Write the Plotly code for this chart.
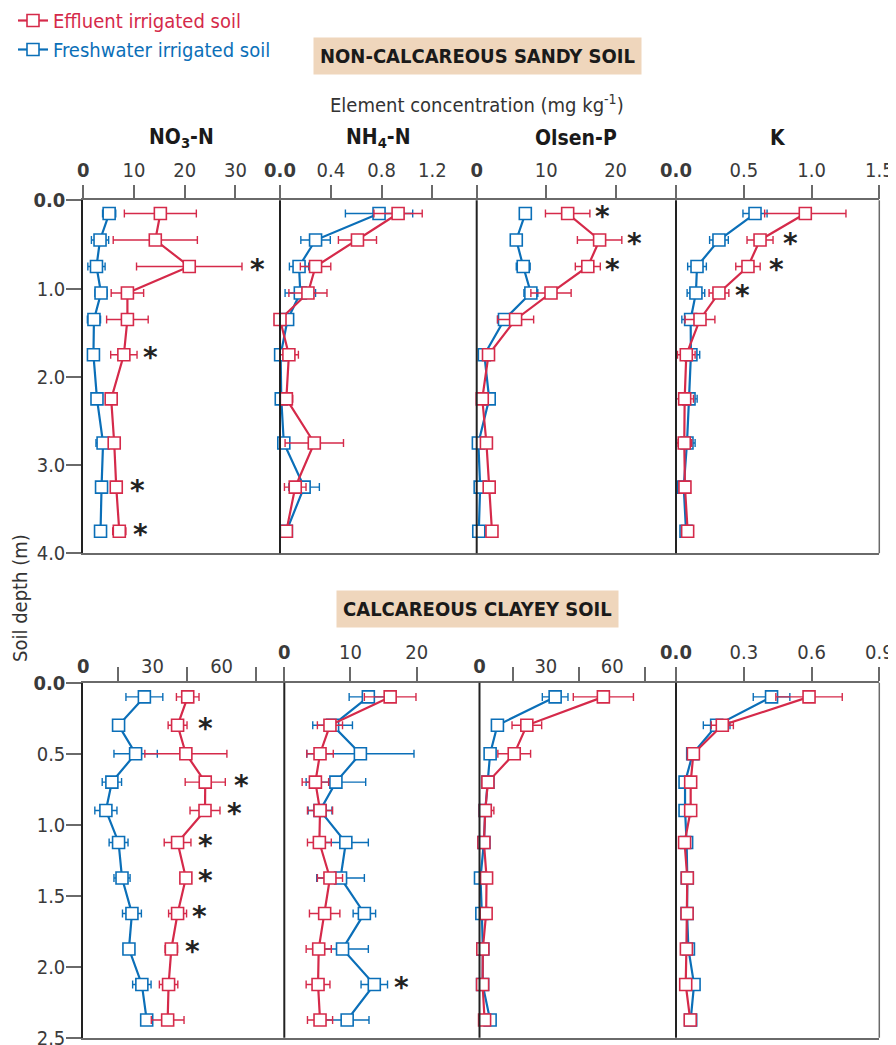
import plotly.graph_objects as go

RED = "#d52a4a"
BLUE = "#0b6fb8"
FONT = "Liberation Sans Narrow, DejaVu Sans Condensed, Roboto, sans-serif"
W, H = 896, 1045
OFF_X, OFF_Y = 8, 8   # page offset of the plot inside the browser window

# ---------------- data ----------------
depth_sandy = [0.15, 0.45, 0.75, 1.05, 1.35, 1.75, 2.25, 2.75, 3.25, 3.75]
depth_clay = [0.1, 0.3, 0.5, 0.7, 0.9, 1.125, 1.375, 1.625, 1.875, 2.125, 2.375]

# Non-calcareous sandy soil
sandy_no3_eff = [15.2, 14.2, 20.9, 8.7, 8.7, 8.0, 5.5, 6.1, 6.5, 7.1]
sandy_no3_eff_err = [7.1, 8.3, 10.4, 3.2, 4.1, 2.6, 1.0, 1.1, 1.1, 1.3]
sandy_no3_fw = [5.1, 3.3, 2.6, 3.5, 2.1, 2.0, 2.7, 3.9, 3.6, 3.4]
sandy_no3_fw_err = [1.3, 1.7, 1.7, 1.2, 1.3, 0, 0, 1.4, 0, 0]

sandy_nh4_eff = [0.93, 0.61, 0.28, 0.22, 0.0, 0.07, 0.05, 0.27, 0.12, 0.05]
sandy_nh4_eff_err = [0.19, 0.15, 0.12, 0.15, 0, 0.075, 0.05, 0.23, 0.085, 0]
sandy_nh4_fw = [0.78, 0.28, 0.15, 0.16, 0.06, 0.005, 0.01, 0.03, 0.19, 0.05]
sandy_nh4_fw_err = [0.265, 0.116, 0.076, 0.12, 0.044, 0, 0, 0, 0.12, 0]

sandy_p_eff = [13.1, 17.7, 16.0, 10.7, 5.6, 1.7, 0.8, 1.4, 1.8, 2.2]
sandy_p_eff_err = [3.2, 3.2, 1.8, 2.9, 2.6, 0, 0, 0, 0, 0]
sandy_p_fw = [7.0, 5.7, 6.7, 7.8, 4.0, 1.1, 1.8, 0.24, 0.5, 0.3]
sandy_p_fw_err = [0, 0, 1.0, 1.0, 1.0, 0, 0, 0, 0, 0]

sandy_k_eff = [0.954, 0.62, 0.531, 0.317, 0.177, 0.076, 0.064, 0.061, 0.066, 0.086]
sandy_k_eff_err = [0.30, 0.096, 0.09, 0.073, 0.11, 0.065, 0.065, 0.055, 0, 0]
sandy_k_fw = [0.583, 0.317, 0.155, 0.147, 0.108, 0.11, 0.096, 0.081, 0.057, 0.074]
sandy_k_fw_err = [0.089, 0.069, 0.069, 0.065, 0.065, 0.065, 0.06, 0.06, 0, 0]

# Calcareous clayey soil
clay_no3_eff = [45.3, 40.9, 44.5, 52.9, 52.8, 40.9, 44.5, 40.9, 38.2, 37.0, 36.6]
clay_no3_eff_err = [4.9, 4.1, 17.8, 8.7, 6.5, 5.8, 0, 3.9, 2.7, 4.0, 7.1]
clay_no3_fw = [26.5, 15.3, 22.7, 12.4, 9.8, 15.3, 16.8, 21.1, 19.8, 25.4, 27.5]
clay_no3_fw_err = [8.0, 2.0, 9.4, 4.2, 4.8, 4.1, 3.5, 4.1, 2.0, 4.0, 2.0]

clay_nh4_eff = [16.0, 6.9, 5.4, 4.7, 5.4, 5.3, 6.9, 6.1, 5.2, 5.1, 5.4]
clay_nh4_eff_err = [3.9, 1.9, 2.0, 2.0, 1.9, 1.8, 1.9, 2.3, 1.9, 1.8, 1.9]
clay_nh4_fw = [12.7, 7.3, 11.5, 7.8, 5.4, 9.3, 8.5, 12.1, 8.8, 13.6, 9.5]
clay_nh4_fw_err = [2.9, 3.0, 8.1, 4.5, 1.8, 3.4, 3.6, 1.7, 3.9, 2.0, 3.3]

clay_p_eff = [56.0, 21.4, 15.7, 3.8, 2.6, 2.0, 3.2, 3.0, 1.5, 1.4, 2.3]
clay_p_eff_err = [13.6, 6.7, 7.4, 0, 3.9, 0, 2.0, 0, 0, 0, 0]
clay_p_fw = [34.2, 8.1, 4.8, 3.8, 2.6, 2.0, 0.45, 1.06, 1.5, 1.4, 4.8]
clay_p_fw_err = [5.8, 1.0, 1.0, 0, 0, 0, 0, 0, 0, 0, 0]

clay_k_eff = [0.589, 0.205, 0.077, 0.065, 0.065, 0.038, 0.050, 0.049, 0.046, 0.043, 0.063]
clay_k_eff_err = [0.147, 0.049, 0, 0, 0, 0, 0, 0, 0, 0, 0]
clay_k_fw = [0.423, 0.18, 0.074, 0.04, 0.04, 0.047, 0.05, 0.049, 0.055, 0.08, 0.065]
clay_k_fw_err = [0.081, 0.059, 0, 0, 0, 0, 0, 0, 0, 0, 0]

# significance asterisks (panel index, value position, depth)
star_panel = [1, 1, 1, 1, 3, 3, 3, 4, 4, 4,
              5, 5, 5, 5, 5, 5, 5, 6]
star_x = [34.3, 13.2, 10.7, 11.3, 18.1, 22.7, 19.6, 0.846, 0.738, 0.492,
          52.8, 68.7, 65.8, 52.8, 53.1, 50.2, 47.3, 17.7]
star_depth = [0.75, 1.75, 3.25, 3.75, 0.15, 0.45, 0.75, 0.45, 0.75, 1.05,
              0.3, 0.7, 0.9, 1.125, 1.375, 1.625, 1.875, 2.125]

element_titles = ["NO<sub>3</sub>-N", "NH<sub>4</sub>-N", "Olsen-P", "K"]

# ---------------- layout helpers ----------------
def px_x(p):
    return (p - OFF_X) / W

def px_y(p):
    return 1 - (p - OFF_Y) / H

top_dom_px = [(83.3, 280.0), (280.0, 476.7), (476.7, 676.0), (676.0, 879.3)]
bot_dom_px = [(83.3, 284.3), (284.3, 479.5), (479.5, 675.7), (676.0, 879.3)]
top_y_dom = [px_y(553.3), px_y(200.3)]
bot_y_dom = [px_y(1037.7), px_y(682.7)]

top_ranges = [[0, 38.8], [0, 1.549], [0, 28.7], [0, 1.5]]
bot_ranges = [[0, 87.2], [0, 29.5], [0, 88.7], [0, 0.9]]

top_ticks = [([0, 10, 20, 30], ["<b>0</b>", "10", "20", "30"]),
             ([0, 0.4, 0.8, 1.2], ["<b>0.0</b>", "0.4", "0.8", "1.2"]),
             ([0, 10, 20], ["<b>0</b>", "10", "20"]),
             ([0, 0.5, 1.0, 1.5], ["<b>0.0</b>", "0.5", "1.0", "1.5"])]
bot_ticks = [([0, 30, 60], ["<b>0</b>", "30", "60"]),
             ([0, 10, 20], ["<b>0</b>", "10", "20"]),
             ([0, 30, 60], ["<b>0</b>", "30", "60"]),
             ([0, 0.3, 0.6, 0.9], ["<b>0.0</b>", "0.3", "0.6", "0.9"])]
bot_minor = [[15, 45, 75], None, [15, 45, 75], None]

AX_GRAY = "#6a6a6a"
TICKFONT = dict(family=FONT, size=20, color="#3a3a3a")

fig = go.Figure()

series = [
    (depth_sandy, sandy_no3_fw, sandy_no3_fw_err, sandy_no3_eff, sandy_no3_eff_err),
    (depth_sandy, sandy_nh4_fw, sandy_nh4_fw_err, sandy_nh4_eff, sandy_nh4_eff_err),
    (depth_sandy, sandy_p_fw, sandy_p_fw_err, sandy_p_eff, sandy_p_eff_err),
    (depth_sandy, sandy_k_fw, sandy_k_fw_err, sandy_k_eff, sandy_k_eff_err),
    (depth_clay, clay_no3_fw, clay_no3_fw_err, clay_no3_eff, clay_no3_eff_err),
    (depth_clay, clay_nh4_fw, clay_nh4_fw_err, clay_nh4_eff, clay_nh4_eff_err),
    (depth_clay, clay_p_fw, clay_p_fw_err, clay_p_eff, clay_p_eff_err),
    (depth_clay, clay_k_fw, clay_k_fw_err, clay_k_eff, clay_k_eff_err),
]

def add_series(xs, ys, errs, color, name, xa, ya, show, rank):
    fig.add_trace(go.Scatter(
        x=xs, y=ys, mode="lines+markers", name=name, showlegend=show,
        xaxis=xa, yaxis=ya, legendrank=rank,
        line=dict(color=color, width=2.2),
        marker=dict(symbol="square", size=12, color="white",
                    line=dict(color=color, width=1.6)),
        error_x=dict(type="data", array=errs, visible=True, color=color,
                     thickness=1.4, width=4),
        cliponaxis=False,
    ))

eff_name = f"<span style='color:{RED}'>Effluent irrigated soil</span>"
fw_name = f"<span style='color:{BLUE}'>Freshwater irrigated soil</span>"

for i, (d, fw, fwe, ef, efe) in enumerate(series):
    xa = "x" if i == 0 else f"x{i+1}"
    ya = "y" if i < 4 else "y2"
    add_series(fw, d, fwe, BLUE, fw_name, xa, ya, i == 0, 2)
    add_series(ef, d, efe, RED, eff_name, xa, ya, i == 0, 1)

layout = dict(
    width=W, height=H, margin=dict(l=0, r=0, t=0, b=0, autoexpand=False),
    plot_bgcolor="white", paper_bgcolor="white",
    font=dict(family=FONT, color="#333"),
    showlegend=True,
    legend=dict(x=px_x(13), y=px_y(1), xanchor="left", yanchor="top",
                font=dict(family=FONT, size=20), bgcolor="rgba(0,0,0,0)",
                tracegroupgap=0, itemwidth=30, traceorder="normal"),
)

for i in range(8):
    key = "xaxis" if i == 0 else f"xaxis{i+1}"
    top = i < 4
    j = i % 4
    dom = top_dom_px[j] if top else bot_dom_px[j]
    tv, tt = (top_ticks if top else bot_ticks)[j]
    ax = dict(
        domain=[px_x(dom[0]), px_x(dom[1])],
        range=(top_ranges if top else bot_ranges)[j],
        anchor="y" if top else "y2", side="top",
        showline=True, mirror=True, linecolor=AX_GRAY, linewidth=1.5,
        ticks="outside", ticklen=14, tickwidth=1.5, tickcolor=AX_GRAY,
        tickmode="array", tickvals=tv, ticktext=tt, tickfont=TICKFONT,
        showgrid=False, zeroline=False, automargin=False,
    )
    if not top and bot_minor[j] is not None:
        ax["ticks"] = ""
        ax["minor"] = dict(tickmode="array", tickvals=bot_minor[j], ticks="outside",
                           ticklen=14, tickwidth=1.5, tickcolor=AX_GRAY)
    layout[key] = ax

ycommon = dict(
    side="left", showline=True, linecolor="#222", linewidth=2,
    ticks="outside", ticklen=15, tickwidth=1.5, tickcolor=AX_GRAY,
    tickmode="array", tickfont=TICKFONT, ticklabelstandoff=-3,
    showgrid=False, zeroline=False, automargin=False,
)
layout["yaxis"] = dict(
    domain=top_y_dom, range=[4, 0], anchor="x",
    tickvals=[0, 1, 2, 3, 4],
    ticktext=["<b>0.0</b>", "1.0", "2.0", "3.0", "4.0"], **ycommon,
)
layout["yaxis2"] = dict(
    domain=bot_y_dom, range=[2.5, 0], anchor="x5",
    tickvals=[0, 0.5, 1.0, 1.5, 2.0, 2.5],
    ticktext=["<b>0.0</b>", "0.5", "1.0", "1.5", "2.0", "2.5"], **ycommon,
)
fig.update_layout(**layout)

# panel separators and right borders
shapes = []
for i in range(8):
    xr = "x" if i == 0 else f"x{i+1}"
    yr = "y" if i < 4 else "y2"
    if i % 4 != 0:
        shapes.append(dict(type="line", xref=f"{xr} domain", yref=f"{yr} domain",
                           x0=0, x1=0, y0=0, y1=1, line=dict(color="#222", width=2)))
    if i % 4 == 3:
        shapes.append(dict(type="line", xref=f"{xr} domain", yref=f"{yr} domain",
                           x0=1, x1=1, y0=0, y1=1, line=dict(color=AX_GRAY, width=1.5)))
fig.update_layout(shapes=shapes)

ann = []
# asterisks
for p, sx, sd in zip(star_panel, star_x, star_depth):
    xr = "x" if p == 1 else f"x{p}"
    yr = "y" if p <= 4 else "y2"
    ann.append(dict(x=sx, y=sd, xref=xr, yref=yr, text="<b>*</b>", showarrow=False,
                    font=dict(family="DejaVu Sans", size=28, color="#222"),
                    xanchor="center", yanchor="middle", yshift=-3))

# element titles
for j, t in enumerate(element_titles):
    c = (top_dom_px[j][0] + top_dom_px[j][1]) / 2
    ann.append(dict(x=px_x(c), y=px_y(138), xref="paper", yref="paper",
                    text=f"<b>{t}</b>", showarrow=False,
                    font=dict(family=FONT, size=21, color="#1a1a1a"),
                    xanchor="center", yanchor="middle"))

ann.append(dict(x=px_x(477), y=px_y(104), xref="paper", yref="paper",
                text="Element concentration (mg kg<sup>-1</sup>)", showarrow=False,
                font=dict(family=FONT, size=20, color="#333"),
                xanchor="center", yanchor="middle"))

ann.append(dict(x=px_x(477), y=px_y(56), xref="paper", yref="paper",
                text="<b>NON-CALCAREOUS SANDY SOIL</b>", showarrow=False,
                font=dict(family=FONT, size=20, color="#1a1a1a"),
                bgcolor="#efd6bc", borderpad=6, xanchor="center", yanchor="middle"))
ann.append(dict(x=px_x(477), y=px_y(609), xref="paper", yref="paper",
                text="<b>CALCAREOUS CLAYEY SOIL</b>", showarrow=False,
                font=dict(family=FONT, size=20, color="#1a1a1a"),
                bgcolor="#efd6bc", borderpad=6, xanchor="center", yanchor="middle"))

ann.append(dict(x=px_x(20), y=px_y(598), xref="paper", yref="paper",
                text="Soil depth (m)", showarrow=False, textangle=-90,
                font=dict(family=FONT, size=20, color="#333"),
                xanchor="center", yanchor="middle"))

fig.update_layout(annotations=ann)

fig.write_html("out.html")
